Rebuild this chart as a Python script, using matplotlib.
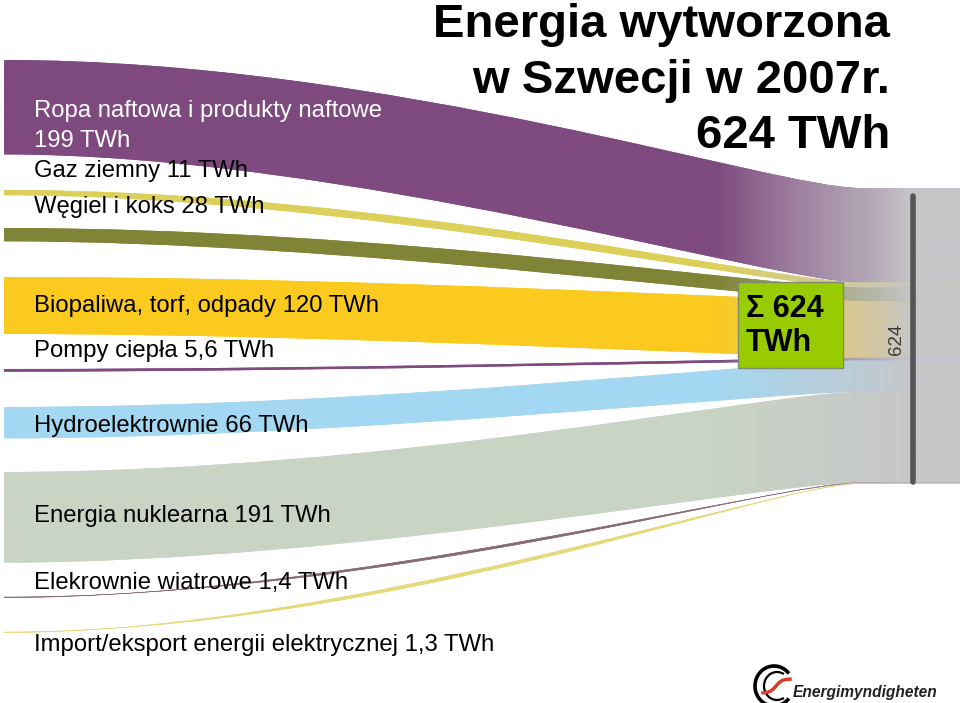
import numpy as np
import matplotlib
matplotlib.use('Agg')
import matplotlib.pyplot as plt
from matplotlib.path import Path
from matplotlib.patches import PathPatch, Rectangle, Arc
from matplotlib.colors import to_rgb

plt.rcParams['font.family'] = ['Liberation Sans', 'DejaVu Sans']

# energy sources, TWh (Sweden 2007)
values = [199, 11, 28, 120, 5.6, 66, 191, 1.4, 1.3]
labels = ['Ropa naftowa i produkty naftowe\n199 TWh',
          'Gaz ziemny 11 TWh',
          'Węgiel i koks 28 TWh',
          'Biopaliwa, torf, odpady 120 TWh',
          'Pompy ciepła 5,6 TWh',
          'Hydroelektrownie 66 TWh',
          'Energia nuklearna 191 TWh',
          'Elekrownie wiatrowe 1,4 TWh',
          'Import/eksport energii elektrycznej 1,3 TWh']
colors = ['#7e4a7f', '#ddd05a', '#7f8436', '#fbca1f', '#7e4a7f',
          '#a4d8f2', '#c9d4c4', '#8a6a78', '#e6d97a']
total = 624

# layout (pixels)
left_top = [60, 190, 228, 277, 369, 407, 472, 597, 632]
label_base = [117, 177, 213, 312, 357, 432, 522, 589, 651]
x0, x1 = 4, 860
right_top0 = 188
px = 296 / total
gray = np.array(to_rgb('#c6c6c9'))

fig = plt.figure(figsize=(9.6, 7.03), dpi=100)
ax = fig.add_axes([0, 0, 1, 1])

L = x1 - x0
xs = np.arange(960) + 0.5
w = np.interp(xs, [0, 715, 800, 880, 912, 960], [0, 0, 0.45, 0.8, 1, 1])

cum = right_top0
for i, v in enumerate(values):
    h = v * px
    lt, lb = left_top[i], left_top[i] + h
    rt, rb = cum, cum + h
    cum += h
    verts = [(x0, lt), (x0 + 0.45 * L, lt), (x0 + 0.9 * L, rt), (x1, rt),
             (960, rt), (960, rb), (x1, rb),
             (x0 + 0.9 * L, rb), (x0 + 0.4 * L, lb), (x0, lb), (x0, lt)]
    codes = [Path.MOVETO, Path.CURVE4, Path.CURVE4, Path.CURVE4,
             Path.LINETO, Path.LINETO, Path.LINETO,
             Path.CURVE4, Path.CURVE4, Path.CURVE4, Path.CLOSEPOLY]
    c = np.array(to_rgb(colors[i]))
    thin = v < 3
    patch = PathPatch(Path(verts, codes), facecolor=colors[i],
                      edgecolor=colors[i] if thin else 'none',
                      lw=0.35 if thin else 0, zorder=1)
    ax.add_patch(patch)
    img = (c[None, :] * (1 - w[:, None]) + gray[None, :] * w[:, None])[None, :, :]
    im = ax.imshow(img, extent=(0, 960, 703, 0), aspect='auto',
                   interpolation='bilinear', zorder=2)
    im.set_clip_path(patch)

# source labels
for i, lab in enumerate(labels):
    lines = lab.split('\n')
    col = 'white' if i == 0 else 'black'
    y = label_base[i]
    for j, ln in enumerate(lines):
        ax.text(34, y + j * 30, ln, fontsize=17.2, color=col,
                ha='left', va='baseline', zorder=5)

# total bar
ax.plot([913, 913], [196, 482], color='#555558', lw=4,
        solid_capstyle='round', zorder=4)
ax.text(896, 339, str(total), rotation=90, fontsize=13.5, color='#3a3a3a',
        ha='center', va='center', zorder=5)

# sum box
ax.add_patch(Rectangle((738, 282), 105, 86, facecolor='#99cc00',
                       edgecolor='#7d8c70', lw=1, zorder=6))
ax.text(746, 317, 'Σ %d' % total, fontsize=22, fontweight='bold',
        ha='left', va='baseline', zorder=7)
ax.text(746, 351, 'TWh', fontsize=22, fontweight='bold',
        ha='left', va='baseline', zorder=7)

# title
title = ['Energia wytworzona', 'w Szwecji w 2007r.', '%d TWh' % total]
for j, t in enumerate(title):
    ax.text(890, [37, 93, 148][j], t, fontsize=34, fontweight='bold',
            ha='right', va='baseline', zorder=7)

# logo
ax.add_patch(Arc((774, 686), 38, 40, theta1=40, theta2=320,
                 color='black', lw=2.6, zorder=7))
ax.add_patch(Arc((777, 686), 26, 28, theta1=60, theta2=300,
                 color='black', lw=1.6, zorder=7))
sx = np.linspace(763, 790, 30)
ax.plot(sx, 686 - 7 * np.tanh((sx - 776) / 6), color='#e03a2a', lw=2.5, zorder=8)
ax.text(793, 692, 'Energimyndigheten', fontsize=11.2, fontweight='bold',
        fontstyle='italic', ha='left', va='center', color='#222222', zorder=7)

ax.set_xlim(0, 960)
ax.set_ylim(703, 0)
ax.axis('off')
fig.savefig('out.png', dpi=100, facecolor='white')
